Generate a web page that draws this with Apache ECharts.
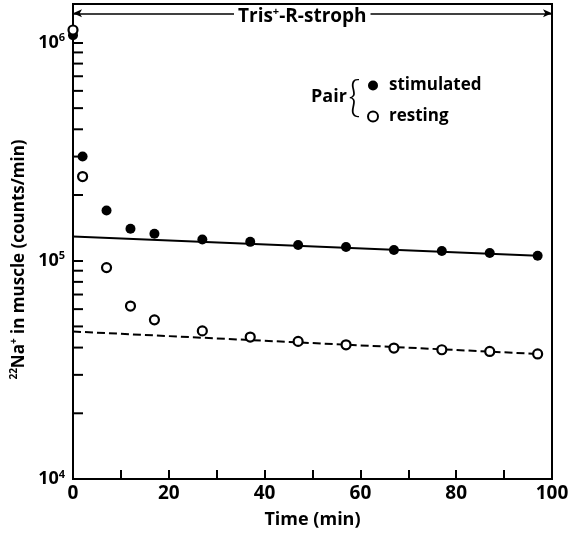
<!DOCTYPE html>
<html>
<head>
<meta charset="utf-8">
<script src="https://cdn.jsdelivr.net/npm/echarts@6/dist/echarts.min.js"></script>
<style>
  html, body { margin: 0; padding: 0; background: #fff; }
  #chart { width: 569px; height: 534px; }
</style>
</head>
<body>
<div id="chart"></div>
<script>
// data
const timePoints = [0, 2, 7, 12, 17, 27, 37, 47, 57, 67, 77, 87, 97];
const stimulated = [1.08e6, 3.0e5, 1.70e5, 1.40e5, 1.33e5, 1.25e5, 1.22e5, 1.18e5, 1.155e5, 1.12e5, 1.108e5, 1.085e5, 1.054e5];
const resting = [1.14e6, 2.43e5, 9.3e4, 6.2e4, 5.36e4, 4.77e4, 4.47e4, 4.27e4, 4.12e4, 3.98e4, 3.91e4, 3.84e4, 3.74e4];

// fitted straight lines (end points)
const fitTime = [0, 97];
const stimulatedFit = [1.29e5, 1.055e5];
const restingFit = [4.74e4, 3.74e4];

// axes
const xLabels = [0, 20, 40, 60, 80, 100];
const yMinorTicks = [2e4, 3e4, 4e4, 5e4, 6e4, 7e4, 8e4, 9e4, 2e5, 3e5, 4e5, 5e5, 6e5, 7e5, 8e5, 9e5];
const yMin = 1e4;
const yMax = 1.5e6;
const arrowLevel = 1.36e6;

const FONT = 'Open Sans';

function pairs(xs, ys) {
  let res = [];
  for (let i = 0; i < xs.length; i++) {
    res.push([xs[i], ys[i]]);
  }
  return res;
}

let chart = echarts.init(document.getElementById('chart'), null, { renderer: 'canvas' });

let option = {
  backgroundColor: '#fff',
  animation: false,
  title: {
    text: 'Tris{sup|+}-R-stroph',
    left: 234,
    top: 6,
    padding: [0, 4],
    backgroundColor: '#fff',
    textStyle: {
      fontFamily: FONT,
      fontWeight: 'bold',
      fontSize: 19,
      color: '#000',
      rich: {
        sup: { fontFamily: FONT, fontWeight: 'bold', fontSize: 11, verticalAlign: 'top', lineHeight: 22 }
      }
    }
  },
  legend: {
    data: ['stimulated', 'resting'],
    orient: 'vertical',
    left: 362,
    top: 72,
    itemWidth: 10,
    itemHeight: 10,
    itemGap: 14,
    textStyle: {
      fontFamily: FONT,
      fontWeight: 'bold',
      fontSize: 17,
      color: '#000',
      padding: [0, 0, 0, 6]
    }
  },
  graphic: [
    {
      type: 'text',
      left: 311,
      top: 88,
      style: { text: 'Pair', font: 'bold 18px "Open Sans"', fill: '#000' }
    },
    {
      type: 'text',
      x: 348,
      y: 98,
      style: { text: '{', font: '300 43px Lato', fill: '#000', verticalAlign: 'middle' }
    }
  ],
  grid: {
    left: 73,
    right: 17,
    top: 4,
    bottom: 55,
    outerBoundsMode: 'none',
    containLabel: false,
    show: true,
    borderColor: '#000',
    borderWidth: 2
  },
  xAxis: {
    type: 'value',
    min: 0,
    max: 100,
    interval: 10,
    name: 'Time (min)',
    nameLocation: 'middle',
    nameGap: 32,
    nameMoveOverlap: false,
    nameTextStyle: { fontFamily: FONT, fontWeight: 'bold', fontSize: 18, color: '#000' },
    axisLine: { lineStyle: { color: '#000', width: 2 } },
    axisTick: { inside: true, length: 9, lineStyle: { color: '#000', width: 2 } },
    axisLabel: {
      margin: 5,
      fontFamily: FONT,
      fontWeight: 'bold',
      fontSize: 19,
      color: '#000',
      formatter: function (v) {
        return xLabels.indexOf(v) >= 0 ? String(v) : '';
      }
    },
    splitLine: { show: false }
  },
  yAxis: {
    type: 'log',
    logBase: 10,
    min: yMin,
    max: yMax,
    name: '{sup|22}Na{sup|+} in muscle (counts/min)',
    nameLocation: 'middle',
    nameGap: 44,
    nameMoveOverlap: false,
    nameTextStyle: {
      fontFamily: FONT,
      fontWeight: 'bold',
      fontSize: 17,
      color: '#000',
      padding: [0, 36, 0, 0],
      rich: {
        sup: { fontFamily: FONT, fontWeight: 'bold', fontSize: 10, verticalAlign: 'top', lineHeight: 20 }
      }
    },
    axisLine: { lineStyle: { color: '#000', width: 2 } },
    axisTick: { inside: true, length: 10, lineStyle: { color: '#000', width: 2 } },
    axisLabel: {
      margin: 8,
      formatter: function (v) {
        let e = Math.round(Math.log10(v));
        if (Math.abs(Math.log10(v) - e) > 1e-6) return '';
        return '{b|10}{s|' + e + '}';
      },
      rich: {
        b: { fontFamily: FONT, fontWeight: 'bold', fontSize: 18, color: '#000', lineHeight: 20 },
        s: { fontFamily: FONT, fontWeight: 'bold', fontSize: 11, color: '#000', verticalAlign: 'top', lineHeight: 20 }
      }
    },
    splitLine: { show: false }
  },
  series: [
    {
      // minor ticks on the log axis (2..9 x 10^n)
      type: 'custom',
      silent: true,
      clip: false,
      z: 5,
      data: yMinorTicks.map(function (v) { return [0, v]; }),
      renderItem: function (params, api) {
        let p = api.coord([0, api.value(1)]);
        return {
          type: 'line',
          shape: { x1: p[0], y1: p[1], x2: p[0] + 10, y2: p[1] },
          style: { stroke: '#000', lineWidth: 2 }
        };
      }
    },
    {
      name: 'stimulated fit',
      type: 'line',
      data: pairs(fitTime, stimulatedFit),
      symbol: 'none',
      lineStyle: { color: '#000', width: 2 },
      z: 3,
      markLine: {
        silent: true,
        symbol: ['arrow', 'arrow'],
        symbolSize: [6, 9],
        label: { show: false },
        lineStyle: { color: '#000', width: 1.5, type: 'solid' },
        data: [[{ coord: [0, arrowLevel] }, { coord: [100, arrowLevel] }]]
      }
    },
    {
      name: 'resting fit',
      type: 'line',
      data: pairs(fitTime, restingFit),
      symbol: 'none',
      lineStyle: { color: '#000', width: 2, type: [8, 4] },
      z: 3
    },
    {
      name: 'stimulated',
      type: 'scatter',
      data: pairs(timePoints, stimulated),
      symbol: 'circle',
      symbolSize: 10,
      itemStyle: { color: '#000', opacity: 1 },
      clip: false,
      z: 4
    },
    {
      name: 'resting',
      type: 'scatter',
      data: pairs(timePoints, resting),
      symbol: 'circle',
      symbolSize: 9,
      itemStyle: { color: '#fff', borderColor: '#000', borderWidth: 2.2, opacity: 1 },
      clip: false,
      z: 4
    }
  ]
};

chart.setOption(option);
</script>
</body>
</html>
